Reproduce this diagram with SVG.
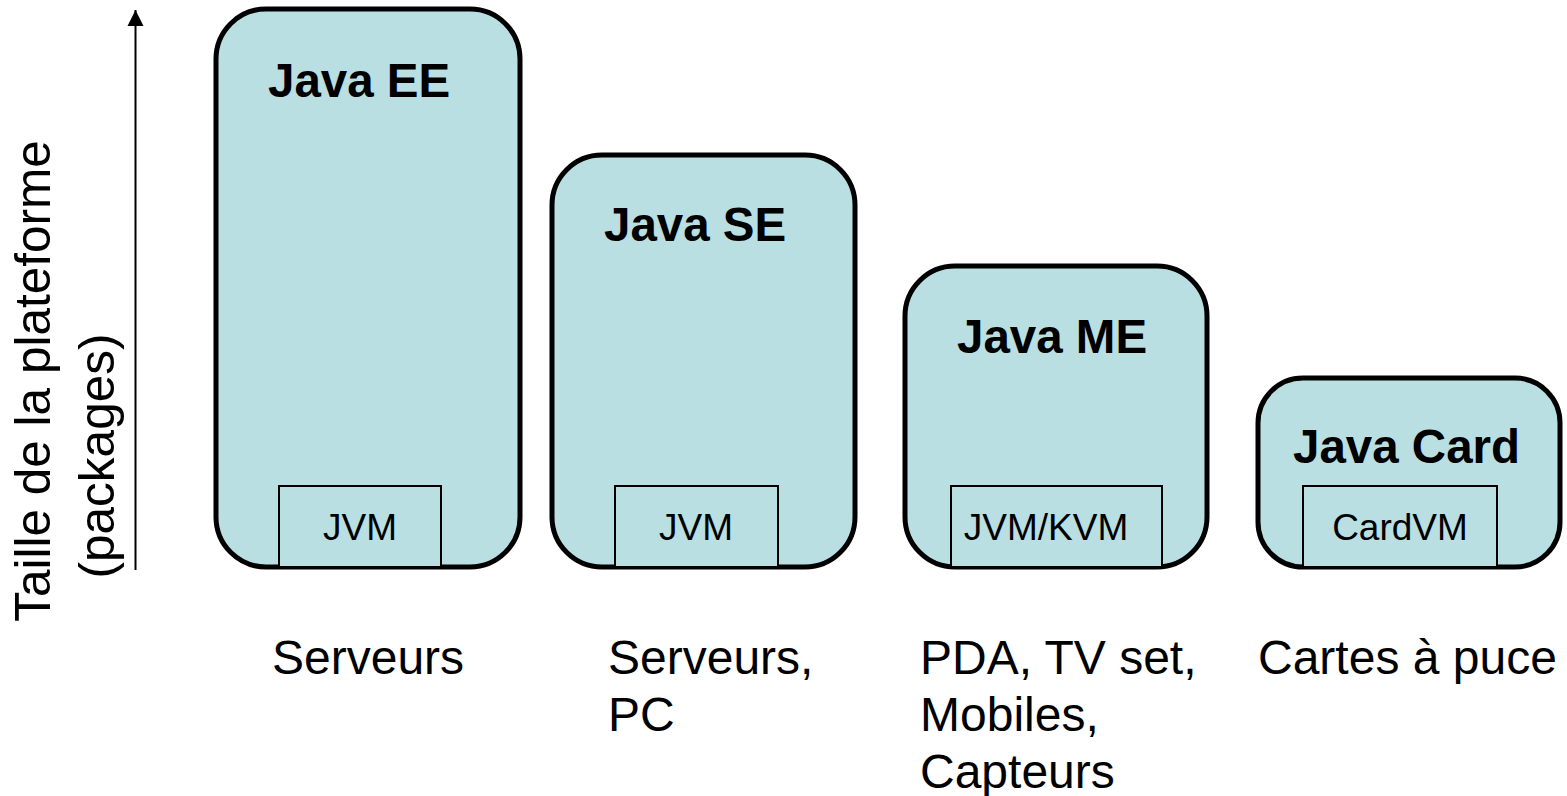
<svg xmlns="http://www.w3.org/2000/svg" width="1567" height="796" viewBox="0 0 1567 796">
<style>
.plat{fill:#B9DFE3;stroke:#000;stroke-width:5}
.vm{fill:#B9DFE3;stroke:#000;stroke-width:2}
.t{font-family:"Liberation Sans",Arial,sans-serif;fill:#000}
.title{font-size:47.5px;font-weight:bold}
.vmt{font-size:37px;text-anchor:middle}
.lbl{font-size:48px}
.ax{font-size:49.5px}
</style>
<g id="connectors">
<line x1="135.5" y1="570" x2="135.5" y2="10" stroke="#000" stroke-width="2"/>
<path d="M127.5,26 L135.5,10 L143.5,26 Z" fill="#000"/>
</g>
<g id="axis-label" class="t ax">
<text transform="translate(50,381) rotate(-90)" text-anchor="middle">Taille de la plateforme</text>
<text transform="translate(114,456) rotate(-90)" text-anchor="middle">(packages)</text>
</g>
<g id="javaee">
<rect class="plat" x="216" y="9" width="304" height="558" rx="50" ry="50"/>
<text class="t title" x="268" y="97">Java EE</text>
<rect class="vm" x="279" y="486" width="162" height="81"/>
<text class="t vmt" x="360" y="540">JVM</text>
</g>
<g id="javase">
<rect class="plat" x="552" y="155" width="303" height="412" rx="50" ry="50"/>
<text class="t title" x="604" y="241">Java SE</text>
<rect class="vm" x="615" y="486" width="163" height="81"/>
<text class="t vmt" x="696" y="540">JVM</text>
</g>
<g id="javame">
<rect class="plat" x="905" y="266" width="302" height="301" rx="50" ry="50"/>
<text class="t title" x="957" y="353">Java ME</text>
<rect class="vm" x="951" y="486" width="211" height="81"/>
<text class="t vmt" x="1046" y="540">JVM/KVM</text>
</g>
<g id="javacard">
<rect class="plat" x="1258" y="378" width="302" height="189" rx="45" ry="45"/>
<text class="t title" x="1293" y="463">Java Card</text>
<rect class="vm" x="1303" y="486" width="194" height="81"/>
<text class="t vmt" x="1400" y="540">CardVM</text>
</g>
<g id="labels" class="t lbl">
<text x="272" y="674">Serveurs</text>
<text x="608" y="674">Serveurs,</text>
<text x="608" y="731">PC</text>
<text x="920" y="674">PDA, TV set,</text>
<text x="920" y="731">Mobiles,</text>
<text x="920" y="788">Capteurs</text>
<text x="1258" y="674">Cartes à puce</text>
</g>
</svg>
